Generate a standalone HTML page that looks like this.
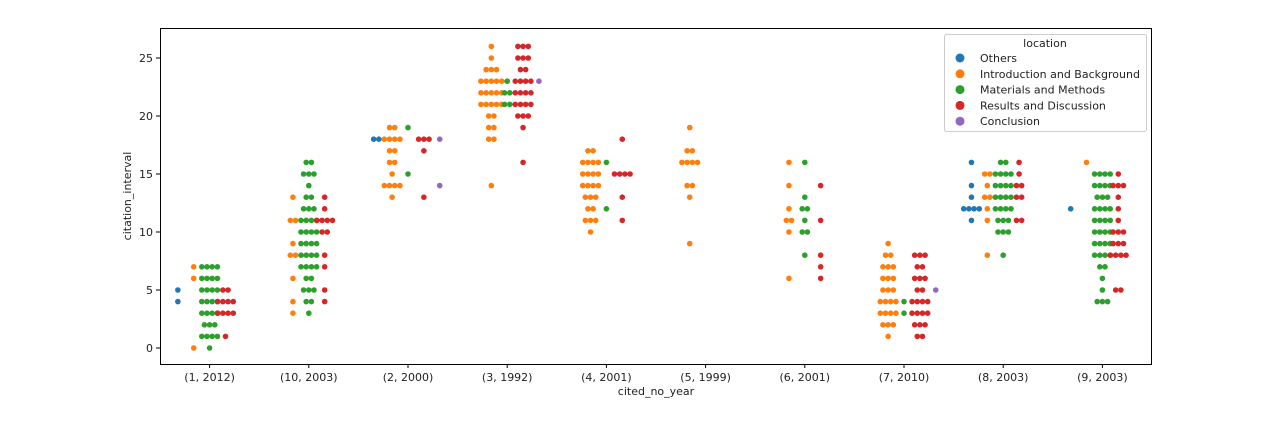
<!DOCTYPE html>
<html><head><meta charset="utf-8"><style>
body{margin:0;background:#fff}
svg text{font-family:"DejaVu Sans","Liberation Sans",sans-serif;font-size:11px;fill:#222}
</style></head><body>
<svg id="chart" width="1280" height="420" xmlns="http://www.w3.org/2000/svg">
<rect x="160.5" y="28.5" width="991" height="336" fill="#fff" stroke="#000" stroke-width="1"/>
<g id="marks"></g><g id="axes"></g>
<text x="656" y="395" text-anchor="middle">cited_no_year</text>
<text transform="translate(131,196) rotate(-90)" text-anchor="middle">citation_interval</text>
<g>
<rect x="944.5" y="34.5" width="202" height="97" rx="2" fill="#fff" fill-opacity="0.8" stroke="#ccc"/>
<text x="1045" y="47" text-anchor="middle">location</text>
<g id="legend-items"></g>
</g>
</svg>
<script>
const categories=["(1, 2012)","(10, 2003)","(2, 2000)","(3, 1992)","(4, 2001)","(5, 1999)","(6, 2001)","(7, 2010)","(8, 2003)","(9, 2003)"];
const hues=["Others","Introduction and Background","Materials and Methods","Results and Discussion","Conclusion"];
const colors=["#1f77b4","#ff7f0e","#2ca02c","#d62728","#9467bd"];
const yTicks=[0,5,10,15,20,25];
// [value,count] per category
const others=[[[5,1],[4,1]],[],[[18,2]],[],[],[],[],[],[[16,1],[14,1],[13,1],[12,4],[11,1]],[[12,1]]];
const intro=[[[7,1],[6,1],[0,1]],[[13,1],[11,2],[9,1],[8,2],[6,1],[4,1],[3,1]],[[19,2],[18,4],[17,2],[16,2],[15,1],[14,4],[13,1]],[[26,1],[25,1],[24,3],[23,5],[22,5],[21,5],[20,2],[19,2],[18,2],[14,1]],[[17,2],[16,4],[15,4],[14,4],[13,3],[12,2],[11,3],[10,1]],[[19,1],[17,2],[16,4],[14,2],[13,1],[9,1]],[[16,1],[14,1],[12,1],[11,2],[10,1],[6,1]],[[9,1],[8,2],[7,3],[6,3],[5,3],[4,4],[3,4],[2,3],[1,1]],[[15,2],[14,1],[13,2],[12,1],[11,1],[8,1]],[[16,1]]];
const methods=[[[7,4],[6,4],[5,4],[4,4],[3,4],[2,3],[1,4],[0,1]],[[16,2],[15,3],[14,1],[13,2],[12,3],[11,4],[10,4],[9,4],[8,4],[7,4],[6,2],[5,3],[4,2],[3,1]],[[19,1],[15,1]],[[23,1],[22,2],[21,2]],[[16,1],[12,1]],[],[[16,1],[13,1],[12,2],[11,1],[10,2],[8,1]],[[4,1],[3,1]],[[16,2],[15,4],[14,4],[13,4],[12,4],[11,3],[10,3],[8,1]],[[15,4],[14,4],[13,3],[12,4],[11,4],[10,4],[9,4],[8,4],[7,2],[6,1],[5,1],[4,3]]];
const results=[[[5,2],[4,4],[3,4],[1,1]],[[13,1],[12,1],[11,4],[10,2],[8,1],[7,1],[5,1],[4,1]],[[18,3],[17,1],[13,1]],[[26,3],[25,3],[24,2],[23,4],[22,4],[21,4],[20,3],[19,1],[16,1]],[[18,1],[15,4],[13,1],[11,1]],[],[[14,1],[11,1],[8,1],[7,1],[6,1]],[[8,3],[7,2],[6,3],[5,2],[4,4],[3,4],[2,3],[1,2]],[[16,1],[15,1],[14,2],[13,2],[11,2]],[[15,1],[14,3],[13,1],[12,1],[11,1],[10,3],[9,3],[8,4],[5,2]]];
const conclusion=[[],[],[[18,1],[14,1]],[[23,1]],[],[],[],[[5,1]],[],[]];
const series=[others,intro,methods,results,conclusion];

const NS="http://www.w3.org/2000/svg";
const x0=160,x1=1152,y0v=348,unit=11.6;
const band=(x1-x0)/categories.length;
const xScale=i=>x0+band*(i+0.5);
const yScale=v=>y0v-v*unit;
const marks=document.getElementById('marks'),axes=document.getElementById('axes');
function mk(t,a,p){const e=document.createElementNS(NS,t);for(const k in a)e.setAttribute(k,a[k]);p.appendChild(e);return e;}
series.forEach((s,h)=>{
  s.forEach((groups,ci)=>{
    const cx=xScale(ci)+(h-2)*band*0.16;
    groups.forEach(([v,n])=>{
      for(let k=0;k<n;k++){
        const c=mk('circle',{cx:cx+(k-(n-1)/2)*5.2,cy:yScale(v),r:2.8,fill:colors[h]},marks);
        
        
      }
    });
  });
});
yTicks.forEach(t=>{
  const y=yScale(t);
  const l=mk('line',{x1:156,x2:160,y1:y,y2:y,stroke:'#000'},axes);
  
  
  const tx=mk('text',{x:153,y:y+4,'text-anchor':'end'},axes);tx.textContent=t;
  
  
});
categories.forEach((c,i)=>{
  const x=xScale(i);
  const l=mk('line',{x1:x,x2:x,y1:364,y2:368,stroke:'#000'},axes);
  
  
  const tx=mk('text',{x:x,y:381,'text-anchor':'middle'},axes);tx.textContent=c;
  
  
});
const li=document.getElementById('legend-items');
hues.forEach((h,i)=>{
  const y=58+i*15.8;
  const g=mk('g',{},li);
  
  
  mk('circle',{cx:960,cy:y,r:4.5,fill:colors[i]},g);
  const t=mk('text',{x:980,y:y+4},g);t.textContent=h;
});
</script>
</body></html>
